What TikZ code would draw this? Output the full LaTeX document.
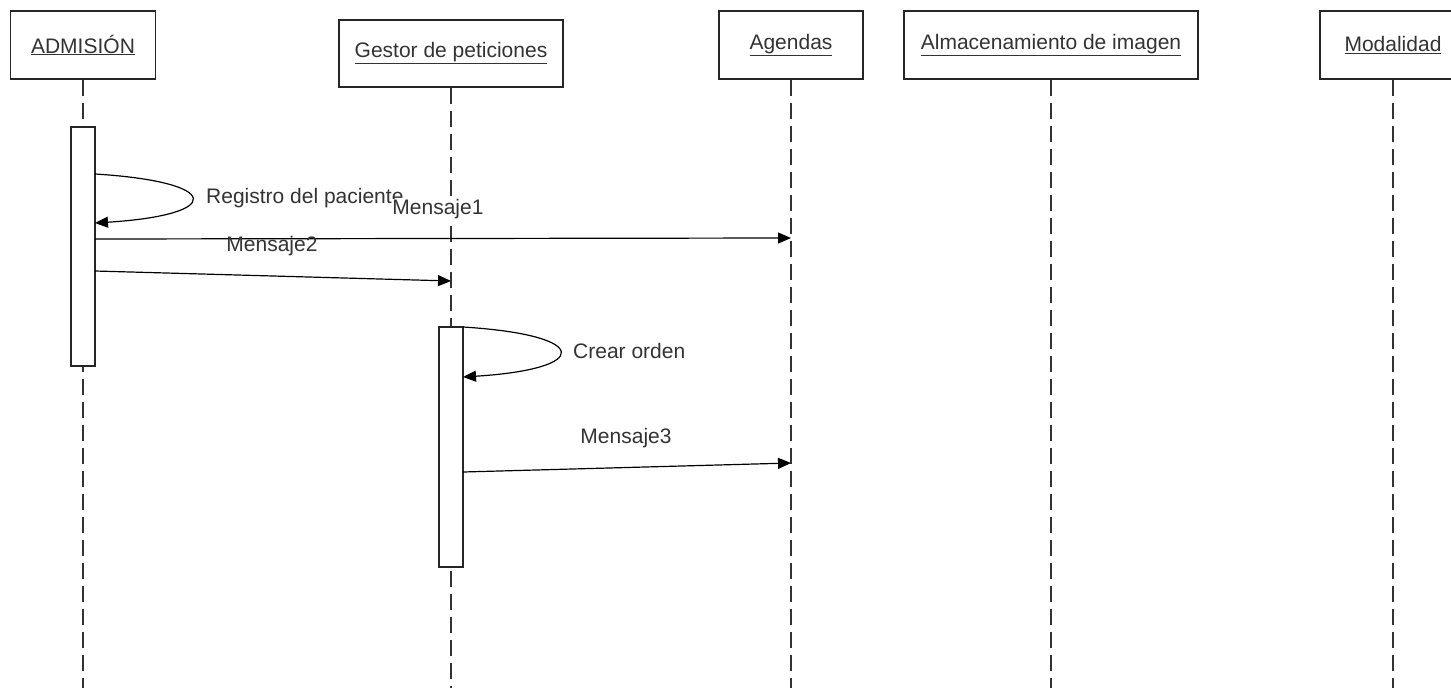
\documentclass[tikz,border=0pt]{standalone}
\usepackage{fontspec}
\setmainfont{Liberation Sans}
\usepackage{tikz}
\usetikzlibrary{arrows.meta}
\usetikzlibrary{positioning}

\tikzset{
	objbox/.style={draw=black!85,line width=1.3pt,fill=white,inner sep=0pt,minimum height=68pt,text=black!80,font=\fontsize{21}{25}\selectfont},
	actbox/.style={draw=black!85,line width=1.3pt,fill=white,inner sep=0pt,minimum width=24pt},
	lifeline/.style={draw=black!80,line width=1.4pt,dash pattern=on 16pt off 7pt},
	msg/.style={draw=black,line width=1.2pt,-{Triangle[length=13pt,width=11pt]}},
	msglabel/.style={text=black!80,inner sep=0pt,font=\fontsize{21}{25}\selectfont}
}

\begin{document}
\begin{tikzpicture}[x=1pt,y=-1pt]
	\clip (0,0) rectangle (1451,688);
	\fill[white] (0,0) rectangle (1451,688);
			\begin{scope}[every node/.style={objbox}]
		    \node[minimum width=145pt] (adm) at (83,45) {\underline{ADMISIÓN}};
		    \node[minimum width=224pt,minimum height=67pt] (gest) at (451,53.5) {\underline{Gestor de peticiones}};
		    \node[minimum width=144pt] (agen) at (791,45) {\underline{Agendas}};
		    \node[minimum width=294pt] (alma) at (1051,45) {\underline{Almacenamiento de imagen}};
		    \node[minimum width=146pt] (moda) at (1393,45) {\underline{Modalidad}};
			\end{scope}
			% fin de las lineas de vida
		    \coordinate (adm-end) at (83,690);
		    \coordinate (gest-end) at (451,690);
		    \coordinate (agen-end) at (791,690);
		    \coordinate (alma-end) at (1051,690);
		    \coordinate (moda-end) at (1393,690);
			\begin{scope}[every path/.style={lifeline}]
		    \path (adm.south) -- (adm-end);
		    \path (gest.south) -- (gest-end);
		    \path (agen.south) -- (agen-end);
		    \path (alma.south) -- (alma-end);
		    \path (moda.south) -- (moda-end);
			\end{scope}
			\begin{scope}[every node/.style={actbox}]
		    \node[minimum height=239pt] (act1) at (83,246.5) {};
		    \node[minimum height=240pt] (act2) at (451,447) {};
			\end{scope}
			% puntos de los mensajes
		    \coordinate (reg-a) at (95,174);
		    \coordinate (reg-b) at (95,223);
		    \coordinate (m1-a) at (95,239);
		    \coordinate (m1-b) at (791,238);
		    \coordinate (m2-a) at (95,271);
		    \coordinate (m2-b) at (451,281);
		    \coordinate (ord-a) at (463,327);
		    \coordinate (ord-b) at (463,377);
		    \coordinate (m3-a) at (463,472);
		    \coordinate (m3-b) at (791,463);
			\begin{scope}[every path/.style={msg}]
		    \path (reg-a) .. controls (224,182) and (224,215) .. (reg-b);
		    \path (m1-a) -- (m1-b);
		    \path (m2-a) -- (m2-b);
		    \path (ord-a) .. controls (592,335) and (592,369) .. (ord-b);
		    \path (m3-a) -- (m3-b);
			\end{scope}
			\begin{scope}[every node/.style={msglabel}]
		    \node[anchor=west] (reg-lbl) at (206,198) {Registro del paciente};
		    \node[fill=white] (m1-lbl) at (438,209) {Mensaje1};
		    \node (m2-lbl) at (272,246) {Mensaje2};
		    \node[anchor=west] (ord-lbl) at (573,351) {Crear orden};
		    \node (m3-lbl) at (626,438) {Mensaje3};
			\end{scope}
    \end{tikzpicture}
\end{document}
